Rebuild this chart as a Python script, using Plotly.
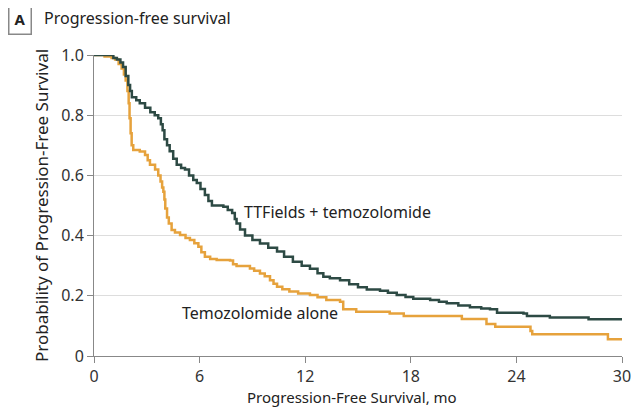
import plotly.graph_objects as go

# TTFields + temozolomide (Kaplan-Meier steps)
tt_months = [0, 0.9, 1.1, 1.3, 1.5, 1.65, 1.8, 1.95, 2.05, 2.15, 2.4, 2.6, 2.9, 3.2, 3.45, 3.65, 3.8, 3.9, 4.0,
             4.15, 4.3, 4.5, 4.7, 4.95, 5.17, 5.4, 5.64, 5.84, 6.05, 6.3, 6.5, 6.7, 7.35, 7.6, 7.85, 8.0, 8.1,
             8.3, 8.58, 9.0, 9.43, 9.9, 10.4, 10.8, 11.3, 11.8, 12.27, 12.7, 13.03, 13.4, 13.98, 14.5, 15.0,
             15.5, 16.25, 16.7, 17.2, 17.7, 18.14, 19.1, 19.6, 20.04, 20.7, 21.36, 22.0, 22.5, 22.9, 24.4,
             24.6, 25.9, 28.1, 30]
tt_surv = [1.0, 1.0, 0.99, 0.985, 0.975, 0.96, 0.93, 0.90, 0.88, 0.86, 0.85, 0.84, 0.825, 0.81, 0.80, 0.79,
           0.77, 0.75, 0.72, 0.70, 0.68, 0.655, 0.635, 0.625, 0.62, 0.60, 0.585, 0.575, 0.555, 0.535, 0.515,
           0.50, 0.496, 0.485, 0.475, 0.455, 0.44, 0.42, 0.40, 0.385, 0.374, 0.36, 0.347, 0.33, 0.313, 0.30,
           0.29, 0.275, 0.263, 0.258, 0.252, 0.238, 0.228, 0.221, 0.217, 0.21, 0.203, 0.196, 0.19, 0.186,
           0.18, 0.175, 0.168, 0.162, 0.158, 0.155, 0.144, 0.141, 0.133, 0.128, 0.122, 0.122]

# Temozolomide alone
tmz_months = [0, 0.6, 1.0, 1.2, 1.4, 1.57, 1.7, 1.8, 1.9, 1.97, 2.02, 2.08, 2.14, 2.23, 2.6, 2.9, 3.05, 3.18,
              3.47, 3.65, 3.78, 3.87, 3.94, 4.0, 4.05, 4.15, 4.25, 4.41, 4.6, 4.89, 5.2, 5.45, 5.7, 5.93, 6.1,
              6.3, 6.6, 6.97, 7.73, 7.9, 8.1, 8.86, 9.1, 9.43, 9.7, 10.0, 10.2, 10.4, 10.7, 11.1, 11.6, 12.27,
              12.7, 13.2, 13.98, 14.16, 14.9, 16.8, 17.6, 20.9, 22.3, 22.8, 24.8, 24.9, 29.2, 30]
tmz_surv = [1.0, 0.995, 0.99, 0.985, 0.97, 0.955, 0.935, 0.915, 0.88, 0.84, 0.79, 0.74, 0.70, 0.684, 0.679,
            0.668, 0.65, 0.635, 0.62, 0.60, 0.58, 0.56, 0.546, 0.52, 0.49, 0.46, 0.44, 0.419, 0.41, 0.402,
            0.392, 0.385, 0.375, 0.363, 0.345, 0.33, 0.322, 0.319, 0.317, 0.305, 0.299, 0.291, 0.283, 0.274,
            0.265, 0.252, 0.24, 0.23, 0.222, 0.214, 0.208, 0.203, 0.195, 0.186, 0.18, 0.155, 0.147, 0.141,
            0.133, 0.123, 0.106, 0.097, 0.083, 0.072, 0.056, 0.056]

x_ticks = [0, 6, 12, 18, 24, 30]
y_ticks = [0, 0.2, 0.4, 0.6, 0.8, 1.0]
y_tick_labels = ["0", "0.2", "0.4", "0.6", "0.8", "1.0"]

DARK = "#2d4a44"
ORANGE = "#e6a23c"
FONT = "Noto Sans"

fig = go.Figure()
fig.add_trace(go.Scatter(x=tmz_months, y=tmz_surv, mode="lines", line=dict(color=ORANGE, width=2.5, shape="hv"),
                         showlegend=False, hoverinfo="skip"))
fig.add_trace(go.Scatter(x=tt_months, y=tt_surv, mode="lines", line=dict(color=DARK, width=2.5, shape="hv"),
                         showlegend=False, hoverinfo="skip"))

fig.update_layout(
    width=640, height=415,
    margin=dict(l=86, r=26, t=47, b=67, autoexpand=False),
    paper_bgcolor="white", plot_bgcolor="white",
    font=dict(family=FONT, color="#333333", size=15),
    xaxis=dict(range=[0, 30], tickvals=x_ticks, ticks="outside", ticklen=6, tickcolor="#888888",
               showline=True, linecolor="#888888", linewidth=1, showgrid=False, zeroline=False,
               automargin=False, tickfont=dict(size=16, color="#333333")),
    yaxis=dict(range=[0, 1.0], tickvals=y_ticks, ticktext=y_tick_labels, ticks="outside", ticklen=6,
               tickcolor="#888888", showline=True, linecolor="#888888", linewidth=1,
               showgrid=True, gridcolor="#dddddd", gridwidth=1, zeroline=False, automargin=False,
               tickfont=dict(size=16, color="#333333"),
               title=dict(text="Probability of Progression-Free Survival", font=dict(size=17, color="#222222"),
                          standoff=8)),
    annotations=[
        dict(text="TTFields + temozolomide", x=8.4, y=0.478, xref="x", yref="y", xanchor="left",
             yanchor="middle", showarrow=False, font=dict(size=16, color="#222222")),
        dict(text="Temozolomide alone", x=4.9, y=0.143, xref="x", yref="y", xanchor="left",
             yanchor="middle", showarrow=False, font=dict(size=16, color="#222222")),
        dict(text="Progression-Free Survival, mo", x=0.286, y=-0.136, xref="paper", yref="paper",
             xanchor="left", yanchor="middle", showarrow=False, font=dict(size=15, color="#222222")),
        dict(text="<b>A</b>", x=-0.141, y=1.121, xref="paper", yref="paper", xanchor="center",
             yanchor="middle", showarrow=False, bordercolor="#888888", borderwidth=1.5, borderpad=5,
             font=dict(size=15, color="#222222")),
        dict(text="Progression-free survival", x=-0.0985, y=1.123, xref="paper", yref="paper",
             xanchor="left", yanchor="middle", showarrow=False, font=dict(size=16, color="#222222")),
    ],
)

fig.write_html("out.html")
